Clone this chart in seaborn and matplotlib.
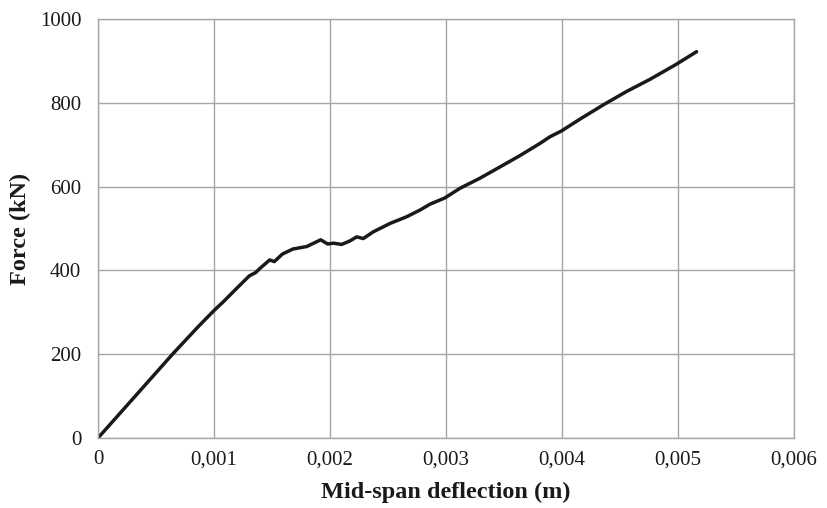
import matplotlib
matplotlib.use("Agg")
import matplotlib.pyplot as plt
import matplotlib.ticker as mticker
import seaborn as sns
import pandas as pd

# mid-span deflection (m) and force (kN)
deflection = [0.0, 0.000649, 0.000865, 0.001003, 0.00108, 0.001195, 0.001305, 0.00136,
              0.001397, 0.00148, 0.00152, 0.00159, 0.00168, 0.0018, 0.00186, 0.00192,
              0.00198, 0.00203, 0.0021, 0.00217, 0.00223, 0.002287, 0.002373, 0.002517,
              0.002661, 0.002776, 0.002862, 0.002991, 0.003121, 0.003293, 0.003466,
              0.003638, 0.00381, 0.003897, 0.003997, 0.004155, 0.004356, 0.004557,
              0.004759, 0.004974, 0.005161]
force = [0, 202, 266, 305, 325, 357, 387, 395,
         405, 425, 421, 439, 451, 457, 465, 473,
         463, 465, 462, 470, 480, 476, 492, 512,
         528, 544, 558, 573, 596, 620, 647,
         674, 703, 719, 733, 761, 795, 827,
         856, 890, 922]

x_ticks = [0, 0.001, 0.002, 0.003, 0.004, 0.005, 0.006]
y_ticks = [0, 200, 400, 600, 800, 1000]

df = pd.DataFrame({"deflection": deflection, "force": force})

sns.set_theme(style="whitegrid")
plt.rcParams["font.family"] = ["Liberation Serif", "DejaVu Serif"]

fig = plt.figure(figsize=(8.27, 5.08), dpi=100)
ax = fig.add_axes([0.1185, 0.1378, 0.8415, 0.8248])

sns.lineplot(data=df, x="deflection", y="force", sort=False, estimator=None,
             color="#1a1a1a", linewidth=2.5, ax=ax)

ax.set_xlim(0, 0.006)
ax.set_ylim(0, 1000)
ax.set_xticks(x_ticks)
ax.set_yticks(y_ticks)
ax.xaxis.set_major_formatter(mticker.FuncFormatter(
    lambda v, p: "0" if v == 0 else f"{v:.3f}".replace(".", ",")))
ax.yaxis.set_major_formatter(mticker.FuncFormatter(lambda v, p: f"{int(v)}"))

ax.grid(True, color="#a6a6a6", linewidth=1.0)
for s in ax.spines.values():
    s.set_color("#a6a6a6")
    s.set_linewidth(1.0)
ax.tick_params(axis="both", which="major", length=4, width=1.0, color="#a6a6a6",
               labelsize=15, labelcolor="#1a1a1a", pad=5)
ax.tick_params(axis="y", pad=8)

ax.set_xlabel("Mid-span deflection (m)", fontsize=17.5, fontweight="bold",
              color="#1a1a1a", labelpad=9)
ax.set_ylabel("Force (kN)", fontsize=17.5, fontweight="bold",
              color="#1a1a1a", labelpad=6)

fig.savefig("out.png", dpi=100, facecolor="white")
